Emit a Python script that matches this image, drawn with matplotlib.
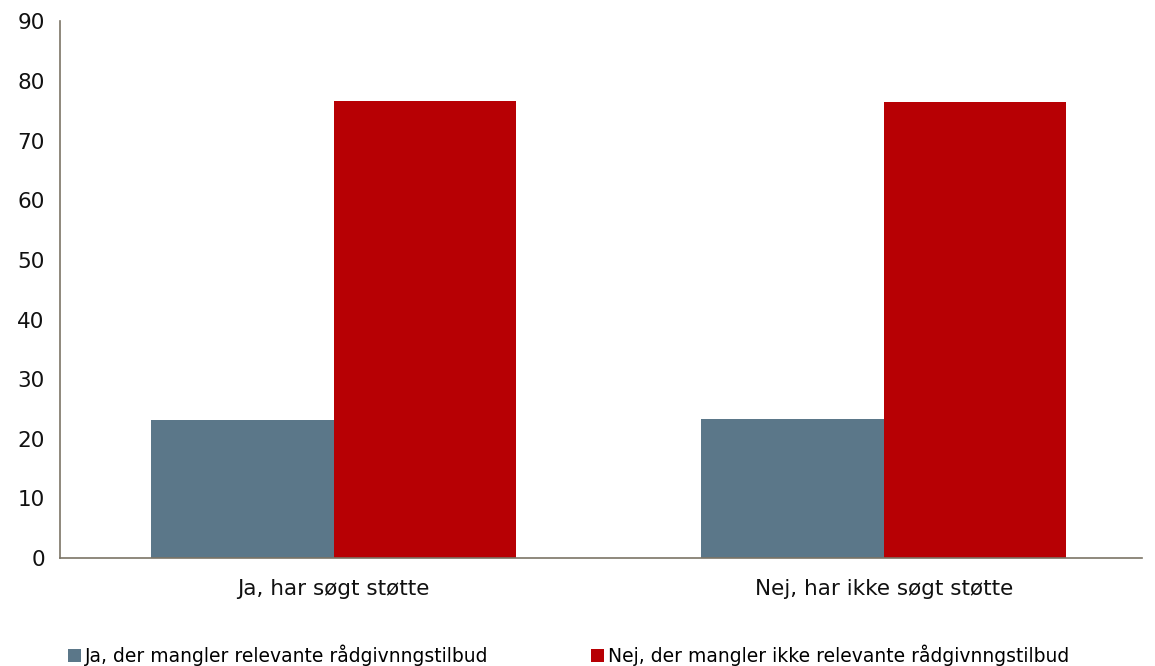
import numpy as np
import matplotlib.pyplot as plt

categories = ["Ja, har søgt støtte", "Nej, har ikke søgt støtte"]
series_names = ["Ja, der mangler relevante rådgivnngstilbud",
                "Nej, der mangler ikke relevante rådgivnngstilbud"]
ja_values = [23.1, 23.3]
nej_values = [76.7, 76.5]
colors = ["#5B7789", "#B70004"]

fig = plt.figure(figsize=(11.55, 6.66), dpi=100)
ax = fig.add_axes([0.052, 0.162, 0.937, 0.806])

x = np.arange(len(categories))
w = 0.332
ax.bar(x - w/2, ja_values, width=w, color=colors[0], label=series_names[0])
ax.bar(x + w/2, nej_values, width=w, color=colors[1], label=series_names[1])

ax.set_xlim(-0.497, 1.47)
ax.set_ylim(0, 90)
ax.set_yticks(range(0, 91, 10))
ax.set_xticks(x)
ax.set_xticklabels(categories, fontsize=15.5)
ax.tick_params(length=0, colors="#111111")
ax.tick_params(axis="y", labelsize=15.5, pad=11)
ax.tick_params(axis="x", pad=15)
for s in ["top", "right"]:
    ax.spines[s].set_visible(False)
for s in ["left", "bottom"]:
    ax.spines[s].set_color("#7B7466")
    ax.spines[s].set_linewidth(1.2)

fig.legend(loc="lower left", bbox_to_anchor=(0.044, -0.025), ncol=2,
           frameon=False, fontsize=13.5, handlelength=0.7, handleheight=0.7,
           handletextpad=0.2, columnspacing=5.5)

fig.savefig("out.png", dpi=100)
